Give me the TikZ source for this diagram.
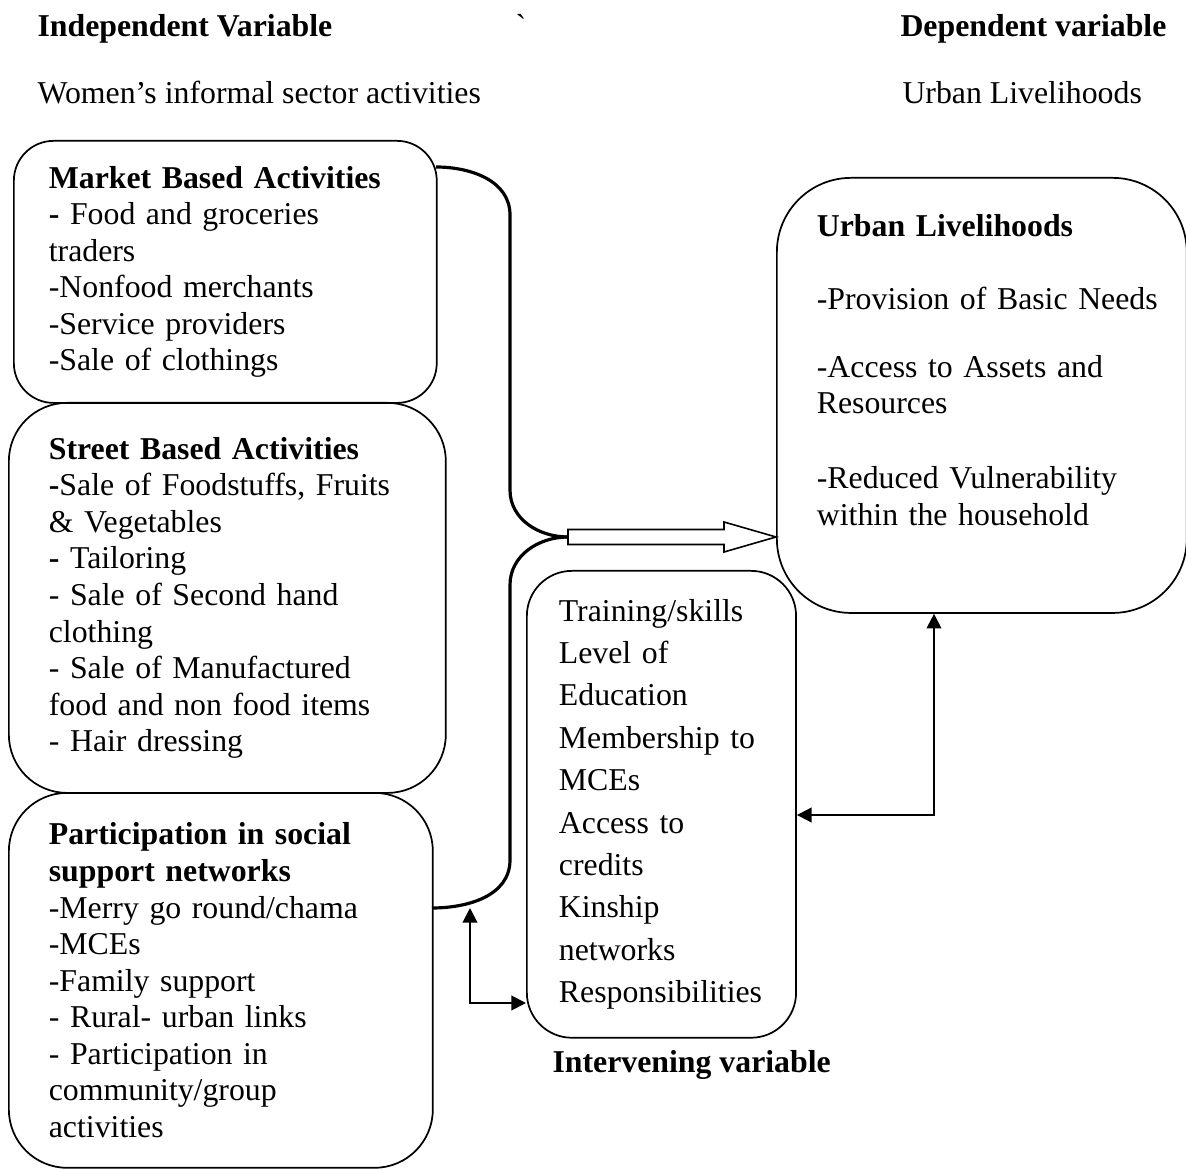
\documentclass[tikz,border=0pt]{standalone}
\usepackage{fontspec}
\setmainfont{Liberation Serif}
\usetikzlibrary{arrows.meta}

\tikzset{
  box/.style={draw, line width=0.65pt, anchor=north west, align=left, inner ysep=0pt, font=\fontsize{12}{13.8}\selectfont},
  hd/.style={inner sep=0pt, anchor=base west, font=\fontsize{12}{13.8}\selectfont},
  brace/.style={line width=1.2pt},
  dbl/.style={line width=0.75pt, >={Triangle[length=5.5pt,width=5.5pt]}, <->},
  fat/.style={line width=0.6pt, fill=white}
}

\begin{document}
\begin{tikzpicture}[x=0.3774pt, y=0.3774pt]
\useasboundingbox (0,0) rectangle (1186,-1170);
\node[hd] (indep) at (37,-37) {\textbf{Independent Variable}};
\node[hd] (tick) at (515,-37) {ˋ};
\node[hd] (dep) at (900,-37) {\textbf{Dependent variable}};
\node[hd] (women) at (37,-104) {Women’s informal sector activities};
\node[hd] (urban) at (902,-104) {Urban Livelihoods};
\node[hd] (interv) at (552,-1072) {\textbf{Intervening variable}};

\node[box, rounded corners=15pt, minimum width=159.6pt, minimum height=98.9pt, text width=133.2pt, inner xsep=13.2pt] (mk) at (13,-140) {\textbf{Market Based Activities}\\ \textbf{-} Food and groceries\\ traders\\ -Nonfood merchants\\ -Service providers\\ -Sale of clothings};
\node[box, rounded corners=22pt, minimum width=164.9pt, minimum height=147.2pt, text width=134.7pt, inner xsep=15.1pt] (st) at (8,-402) {\textbf{Street Based Activities}\\ \textbf{-}Sale of Foodstuffs, Fruits\\ \& Vegetables\\ \textbf{-} Tailoring\\ - Sale of Second hand\\ clothing\\ - Sale of Manufactured\\ food and non food items\\ - Hair dressing};
\node[box, rounded corners=22pt, minimum width=160pt, minimum height=141.5pt, text width=129.8pt, inner xsep=15.1pt] (ps) at (8,-792) {\textbf{Participation in social}\\ \textbf{support networks}\\ -Merry go round/chama\\ -MCEs\\ -Family support\\ - Rural- urban links\\ - Participation in\\ community/group\\ activities};
\node[box, rounded corners=28pt, minimum width=154.7pt, minimum height=164.2pt, text width=124.5pt, inner xsep=15.1pt] (ul) at (776,-177) {\textbf{Urban Livelihoods}\\[13.8pt] \mbox{-Provision of Basic Needs}\\[11.5pt] -Access to Assets and\\ Resources\\[14.5pt] -Reduced Vulnerability\\ within the household\\[5.4pt] \mbox{}};
\node[box, rounded corners=17pt, minimum width=101.5pt, minimum height=176.2pt, text width=77.4pt, inner xsep=12.1pt, font=\fontsize{12}{16}\selectfont] (iv) at (526,-570) {Training/skills\\ Level of\\ Education\\ Membership to\\ MCEs\\ Access to\\ credits\\ Kinship\\ networks\\ Responsibilities};

\coordinate (upstart) at (436,-167);
\coordinate (lowstart) at (432,-908);
\coordinate (join) at (568,-537);
\draw[brace] (upstart) to[out=0,in=90] (510,-215) -- (510,-490) to[out=-90,in=180] (join);
\draw[brace] (lowstart) to[out=0,in=-90] (510,-860) -- (510,-585) to[out=90,in=180] (join);
\draw[fat] (join) ++(0,7.5) -- ++(156,0) -- ++(0,7.5) -- (join -| ul.west) -- ++(-52,-15) -- ++(0,7.5) -- ++(-156,0) -- cycle;

\coordinate (rbend) at (934,-815);
\draw[dbl] (ul.south -| rbend) -- (rbend) -- (rbend -| iv.east);
\coordinate (lbend) at (470,-1003);
\draw[dbl] (lbend |- lowstart) -- (lbend) -- (lbend -| iv.west);
\end{tikzpicture}
\end{document}
